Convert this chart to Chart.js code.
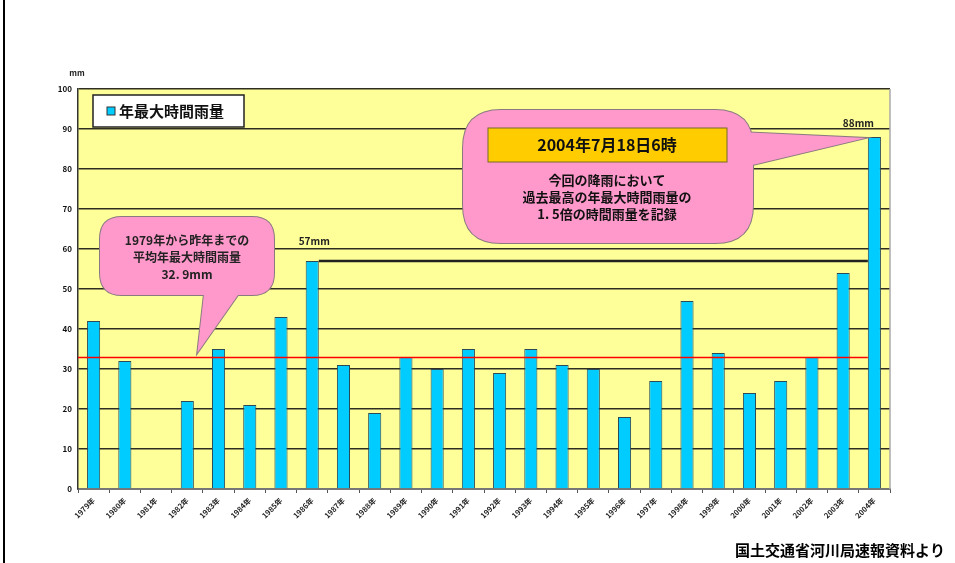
<!DOCTYPE html>
<html>
<head>
<meta charset="utf-8">
<script src="https://cdn.jsdelivr.net/npm/chart.js@4"></script>
<style>
  body { margin: 0; background: #fff; }
  canvas { display: block; }
</style>
</head>
<body>
<canvas id="myChart" width="955" height="563"></canvas>
<script>
// 年最大時間雨量 (mm), 1979-2004
const years = ["1979年", "1980年", "1981年", "1982年", "1983年", "1984年", "1985年", "1986年", "1987年",
  "1988年", "1989年", "1990年", "1991年", "1992年", "1993年", "1994年", "1995年", "1996年", "1997年",
  "1998年", "1999年", "2000年", "2001年", "2002年", "2003年", "2004年"];
const maxRain = [42, 32, null, 22, 35, 21, 43, 57, 31, 19, 33, 30, 35, 29, 35, 31, 30, 18, 27, 47, 34, 24, 27, 33, 54, 88];
const avgRain = 32.9;   // 1979年から昨年までの平均
const prevMax = 57;     // 1986年
const prevMaxIndex = 7;
const lastIndex = 25;

const jpFont = '"Noto Sans CJK JP", "Noto Sans", sans-serif';

function roundRect(ctx, x, y, w, h, r) {
  ctx.beginPath();
  ctx.moveTo(x + r, y);
  ctx.lineTo(x + w - r, y);
  ctx.quadraticCurveTo(x + w, y, x + w, y + r);
  ctx.lineTo(x + w, y + h - r);
  ctx.quadraticCurveTo(x + w, y + h, x + w - r, y + h);
  ctx.lineTo(x + r, y + h);
  ctx.quadraticCurveTo(x, y + h, x, y + h - r);
  ctx.lineTo(x, y + r);
  ctx.quadraticCurveTo(x, y, x + r, y);
  ctx.closePath();
}

function callout(ctx, box, tail) {
  ctx.save();
  ctx.lineWidth = 2;
  ctx.strokeStyle = "#8a7a80";
  roundRect(ctx, box.x, box.y, box.w, box.h, box.r);
  ctx.stroke();
  ctx.beginPath();
  ctx.moveTo(tail[0][0], tail[0][1]);
  for (let i = 1; i < tail.length; i++) ctx.lineTo(tail[i][0], tail[i][1]);
  ctx.closePath();
  ctx.stroke();
  ctx.fillStyle = "#ff99cc";
  roundRect(ctx, box.x, box.y, box.w, box.h, box.r);
  ctx.fill();
  ctx.beginPath();
  ctx.moveTo(tail[0][0], tail[0][1]);
  for (let i = 1; i < tail.length; i++) ctx.lineTo(tail[i][0], tail[i][1]);
  ctx.closePath();
  ctx.fill();
  ctx.restore();
}

const plotBg = {
  id: "plotBg",
  beforeDraw(chart) {
    const { ctx, chartArea: a } = chart;
    ctx.save();
    ctx.fillStyle = "#ffff99";
    ctx.fillRect(a.left, a.top, a.right - a.left, a.bottom - a.top);
    ctx.restore();
  },
};

const extras = {
  id: "extras",
  afterDatasetsDraw(chart) {
    const { ctx, chartArea: a } = chart;
    const x = chart.scales.x;
    const y = chart.scales.y;
    const bars = chart.getDatasetMeta(0).data;
    const lastLeft = bars[lastIndex].x - bars[lastIndex].width / 2;

    ctx.save();
    // average line
    ctx.strokeStyle = "#ff0000";
    ctx.lineWidth = 1.5;
    ctx.beginPath();
    ctx.moveTo(a.left, y.getPixelForValue(avgRain));
    ctx.lineTo(lastLeft, y.getPixelForValue(avgRain));
    ctx.stroke();

    // previous maximum line
    const pmRight = bars[prevMaxIndex].x + bars[prevMaxIndex].width / 2;
    ctx.strokeStyle = "#222";
    ctx.lineWidth = 2.5;
    ctx.beginPath();
    ctx.moveTo(pmRight, y.getPixelForValue(prevMax));
    ctx.lineTo(lastLeft, y.getPixelForValue(prevMax));
    ctx.stroke();

    // right frame
    ctx.strokeStyle = "#aaa";
    ctx.lineWidth = 1.5;
    ctx.beginPath();
    ctx.moveTo(a.right, a.top);
    ctx.lineTo(a.right, a.bottom);
    ctx.stroke();

    ctx.fillStyle = "#222";
    ctx.textAlign = "center";
    ctx.textBaseline = "middle";
    ctx.font = "bold 10px " + jpFont;
    ctx.fillText("57mm", bars[prevMaxIndex].x + 2, y.getPixelForValue(prevMax) - 20);
    ctx.fillText("88mm", bars[lastIndex].x - 16, y.getPixelForValue(maxRain[lastIndex]) - 14);

    // legend
    ctx.fillStyle = "#fff";
    ctx.fillRect(93, 95, 151, 32);
    ctx.strokeStyle = "#222";
    ctx.lineWidth = 1.5;
    ctx.strokeRect(93, 95, 151, 32);
    ctx.fillStyle = "#00ccff";
    ctx.fillRect(107, 107, 8, 8);
    ctx.strokeStyle = "#333";
    ctx.lineWidth = 1;
    ctx.strokeRect(107, 107, 8, 8);
    ctx.fillStyle = "#111";
    ctx.textAlign = "left";
    ctx.font = "bold 15px " + jpFont;
    ctx.fillText(chart.data.datasets[0].label, 119, 111);

    // callout: average
    const tip1x = x.getPixelForValue(3) + 10;
    const tip1y = y.getPixelForValue(34);
    callout(ctx, { x: 100, y: 217, w: 174, h: 78, r: 22 },
      [[205, 285], [245, 285], [tip1x, tip1y]]);
    ctx.fillStyle = "#222";
    ctx.textAlign = "center";
    ctx.font = "bold 12px " + jpFont;
    ctx.fillText("1979年から昨年までの", 187, 240);
    ctx.fillText("平均年最大時間雨量", 187, 257);
    ctx.fillText("32. 9mm", 187, 274);

    // callout: 2004
    const tip2x = lastLeft - 2;
    const tip2y = y.getPixelForValue(maxRain[lastIndex]) + 1;
    callout(ctx, { x: 463, y: 110, w: 290, h: 133, r: 38 },
      [[740, 132], [740, 168], [tip2x, tip2y]]);
    ctx.fillStyle = "#ffcc00";
    ctx.fillRect(488, 128, 239, 34);
    ctx.strokeStyle = "#7a6a20";
    ctx.lineWidth = 1;
    ctx.strokeRect(488, 128, 239, 34);
    ctx.fillStyle = "#111";
    ctx.font = "bold 16px " + jpFont;
    ctx.fillText("2004年7月18日6時", 607, 145);
    ctx.font = "bold 13px " + jpFont;
    ctx.fillText("今回の降雨において", 607, 180);
    ctx.fillText("過去最高の年最大時間雨量の", 607, 197);
    ctx.fillText("1. 5倍の時間雨量を記録", 607, 214);
    ctx.restore();
  },
  afterDraw(chart) {
    const { ctx } = chart;
    ctx.save();
    ctx.fillStyle = "#000";
    ctx.fillRect(3, 0, 2, chart.height);
    ctx.fillStyle = "#222";
    ctx.textAlign = "center";
    ctx.textBaseline = "middle";
    ctx.font = "bold 8px " + jpFont;
    ctx.fillText("mm", 77, 73);
    ctx.fillStyle = "#000";
    ctx.textAlign = "right";
    ctx.font = "bold 15px " + jpFont;
    ctx.fillText("国土交通省河川局速報資料より", 945, 550);
    ctx.restore();
  },
};

const data = {
  labels: years,
  datasets: [
    {
      label: "年最大時間雨量",
      data: maxRain,
      backgroundColor: "#00ccff",
      borderColor: "#2a4a5a",
      borderWidth: 1,
      barPercentage: 0.84,
      categoryPercentage: 0.5,
    },
  ],
};

const config = {
  type: "bar",
  data: data,
  options: {
    responsive: false,
    animation: false,
    layout: {
      padding: { left: 0, right: 65, top: 89, bottom: 0 },
    },
    plugins: {
      legend: { display: false },
      tooltip: { enabled: false },
    },
    scales: {
      x: {
        afterFit: (scale) => { scale.height = 74; },
        grid: {
          drawOnChartArea: false,
          drawTicks: true,
          tickLength: 4,
          color: "#555",
        },
        border: { color: "#777", width: 2 },
        ticks: {
          autoSkip: false,
          minRotation: 45,
          maxRotation: 45,
          color: "#222",
          font: { size: 7.5, weight: "bold", family: jpFont },
        },
      },
      y: {
        min: 0,
        max: 100,
        afterFit: (scale) => { scale.width = 78; },
        grid: {
          color: "#2e2e22",
          lineWidth: 1.5,
          drawTicks: false,
        },
        border: { color: "#333", width: 1.5 },
        ticks: {
          stepSize: 10,
          padding: 6,
          color: "#111",
          font: { size: 8, weight: "bold", family: jpFont },
        },
      },
    },
  },
  plugins: [plotBg, extras],
};

const myChart = new Chart(document.getElementById("myChart"), config);
</script>
</body>
</html>
